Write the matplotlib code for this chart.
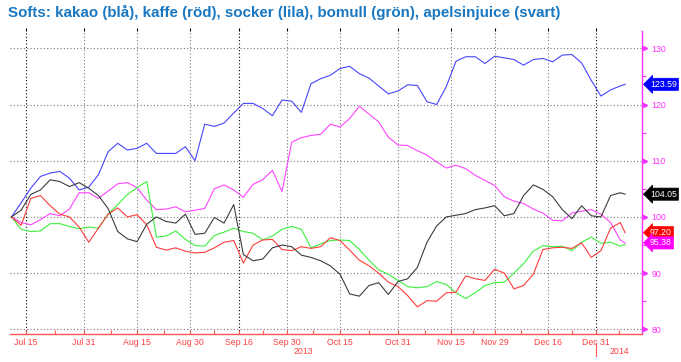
import numpy as np
import pandas as pd
import matplotlib
matplotlib.use('Agg')
import matplotlib.pyplot as plt
from matplotlib.transforms import blended_transform_factory
from matplotlib.ticker import MultipleLocator, FixedLocator

# ---------------- data ----------------
holidays = ['2013-09-02', '2013-11-28', '2013-12-25', '2014-01-01']
bdays = [d for d in pd.bdate_range('2013-07-10', '2014-01-20')
         if d.strftime('%Y-%m-%d') not in holidays]
sample_idx = list(range(0, 127, 2)) + [127]
dates = [bdays[i].strftime('%Y-%m-%d') for i in sample_idx]

kakao = [100.0, 102.5, 105.1, 107.2, 107.8, 108.1, 106.9, 104.8, 105.3, 107.5,
         111.6, 113.1, 111.9, 112.2, 113.1, 111.3, 111.3, 111.3, 112.5, 110.0,
         116.5, 116.1, 116.7, 118.5, 120.2, 120.2, 119.3, 118.0, 120.8, 120.6,
         118.6, 123.7, 124.6, 125.2, 126.4, 126.8, 125.5, 124.7, 123.3, 121.9,
         122.4, 123.5, 123.4, 120.5, 120.0, 123.2, 127.7, 128.5, 128.5, 127.3,
         128.6, 128.3, 128.0, 127.0, 128.0, 128.2, 127.6, 128.8, 128.9, 127.4,
         124.3, 121.5, 122.6, 123.3, 123.59]
apelsinjuice = [100.0, 101.2, 104.0, 104.8, 106.6, 106.3, 105.4, 106.1, 105.1, 103.8,
                101.5, 97.4, 96.1, 95.6, 98.7, 100.0, 99.2, 98.9, 100.5, 96.9,
                97.1, 99.9, 98.9, 102.2, 93.3, 92.2, 92.5, 94.5, 95.0, 94.7,
                93.2, 92.8, 92.2, 91.3, 89.8, 86.3, 85.9, 87.8, 88.3, 86.2,
                88.5, 89.0, 91.0, 95.5, 98.4, 100.0, 100.3, 100.6, 101.3, 101.6,
                102.0, 100.2, 100.6, 103.8, 105.7, 104.9, 103.6, 101.3, 99.7, 102.0,
                100.2, 100.0, 103.8, 104.3, 104.05]
kaffe = [100.0, 98.5, 103.3, 103.8, 102.0, 100.5, 100.0, 98.2, 95.5, 98.0,
         100.5, 101.6, 100.0, 100.4, 98.6, 94.6, 94.1, 94.5, 93.9, 93.6,
         93.7, 94.5, 95.5, 95.8, 91.8, 95.0, 95.9, 96.0, 94.2, 94.0,
         94.7, 94.4, 94.7, 96.3, 95.8, 94.1, 92.3, 91.3, 90.0, 88.4,
         87.6, 86.0, 84.0, 85.1, 85.0, 86.5, 86.6, 89.5, 89.0, 88.7,
         90.7, 90.0, 87.2, 87.8, 89.8, 94.2, 94.5, 94.6, 94.4, 95.4,
         92.8, 94.0, 98.0, 99.0, 97.20]
socker = [100.0, 99.0, 98.6, 99.5, 100.6, 100.2, 101.4, 104.3, 104.3, 103.3,
          104.6, 105.9, 106.1, 105.2, 103.0, 101.3, 101.4, 101.8, 100.9, 101.2,
          101.5, 105.0, 105.7, 104.8, 103.5, 105.8, 106.6, 108.3, 104.5, 113.3,
          114.1, 114.5, 114.7, 116.5, 116.0, 117.5, 119.7, 118.3, 116.9, 114.2,
          112.8, 112.7, 111.8, 111.0, 109.8, 108.7, 109.2, 108.6, 107.4, 106.5,
          105.6, 103.6, 102.8, 102.4, 101.4, 100.7, 99.4, 99.3, 100.7, 101.0,
          101.3, 100.5, 99.0, 95.9, 95.38]
bomull = [100.0, 97.8, 97.4, 97.5, 98.8, 98.8, 98.3, 97.9, 98.2, 98.0,
          100.5, 102.2, 104.0, 105.2, 106.3, 96.4, 96.6, 97.5, 96.0, 94.9,
          94.8, 96.7, 97.3, 98.0, 97.4, 97.1, 95.9, 96.6, 97.8, 98.3,
          97.8, 94.5, 95.2, 95.8, 95.9, 95.8, 94.2, 92.3, 90.6, 89.8,
          88.7, 87.6, 87.4, 87.6, 88.5, 88.0, 86.5, 85.5, 86.5, 87.8,
          88.3, 88.4, 90.0, 91.7, 93.9, 94.9, 94.7, 94.8, 94.0, 95.5,
          96.4, 95.3, 95.5, 94.8, 95.1]

tick_dates = ['2013-07-15', '2013-07-31', '2013-08-15', '2013-08-30', '2013-09-16',
              '2013-09-30', '2013-10-15', '2013-10-31', '2013-11-15', '2013-11-29',
              '2013-12-16', '2013-12-31']
tick_labels = ['Jul 15', 'Jul 31', 'Aug 15', 'Aug 30', 'Sep 16', 'Sep 30',
               'Oct 15', 'Oct 31', 'Nov 15', 'Nov 29', 'Dec 16', 'Dec 31']
dark_dates = ['2013-07-15', '2013-09-16', '2013-12-31']
y_ticks = [80, 90, 100, 110, 120, 130]
title = 'Softs: kakao (blå), kaffe (röd), socker (lila), bomull (grön), apelsinjuice (svart)'

# ---------------- plotting ----------------
pos = {d.strftime('%Y-%m-%d'): i for i, d in enumerate(bdays)}
x = np.array([pos[d] for d in dates])
xt = np.array([pos[d] for d in tick_dates])

W, H = 681, 362
fig = plt.figure(figsize=(W / 100, H / 100), dpi=100)
fig.patch.set_facecolor('white')
ax = fig.add_axes([10 / W, 28 / H, 632 / W, 303 / H])
ax.set_xlim(-0.3, 130.5)
ax.set_ylim(79.17, 133.08)

FONT = 'Liberation Sans'
MAG = '#ff33ff'
RED_AX = '#ff5555'

# grid
for v in y_ticks:
    ax.axhline(v, color='#7a7a7a', lw=0.8, ls=(0, (1, 2)), zorder=1)
for d, xv in zip(tick_dates, xt):
    col = '#000000' if d in dark_dates else '#7a7a7a'
    ax.axvline(xv, color=col, lw=0.8, ls=(0, (1, 2)), zorder=1)

series = [
    (kakao, '#4646ff'),
    (socker, '#ff44ff'),
    (bomull, '#3cf03c'),
    (kaffe, '#ff3c3c'),
    (apelsinjuice, '#3c3c3c'),
]
for vals, c in series:
    ax.plot(x, vals, color=c, lw=0.8, zorder=3)

# spines
for s in ['left', 'top']:
    ax.spines[s].set_visible(False)
ax.spines['right'].set_color(MAG)
ax.spines['right'].set_linestyle((0, (1, 1)))
ax.spines['right'].set_linewidth(1.0)
ax.spines['bottom'].set_color(RED_AX)
ax.spines['bottom'].set_linewidth(1.0)

# x ticks
ax.set_xticks(xt)
ax.set_xticklabels(tick_labels)
mids = list((xt[:-1] + xt[1:]) / 2) + [(xt[-1] + 130.5) / 2]
ax.xaxis.set_minor_locator(FixedLocator(mids))
ax.tick_params(axis='x', which='both', colors=RED_AX, length=3, width=0.8,
               direction='in', pad=3, labelsize=6.3)
for lbl in ax.get_xticklabels():
    lbl.set_fontfamily(FONT)
    lbl.set_color('#ff4040')

# top ticks
secx = ax.secondary_xaxis('top')
secx.set_xticks(xt)
secx.tick_params(axis='x', length=2.5, width=0.8, colors='black', labeltop=False, direction='out')
secx.spines['top'].set_visible(False)

# y ticks on right
ax.yaxis.tick_right()
ax.set_yticks(y_ticks)
ax.yaxis.set_minor_locator(MultipleLocator(5))
ax.tick_params(axis='y', which='major', length=0, pad=7, labelsize=6.3, labelcolor=MAG)
ax.tick_params(axis='y', which='minor', length=3, width=0.8, color=MAG, direction='out')
for lbl in ax.get_yticklabels():
    lbl.set_fontfamily(FONT)
ax.tick_params(axis='y', left=False, labelleft=False)

ytr = blended_transform_factory(ax.transAxes, ax.transData)
ax.plot([1.0 + 2.5 / 632] * len(y_ticks), y_ticks, ls='none', marker='>', ms=3,
        color=MAG, transform=ytr, clip_on=False, zorder=5)

# last-value boxes
last_boxes = [
    (kakao[-1], '#0000ff'),
    (apelsinjuice[-1], '#000000'),
    (kaffe[-1], '#ff0000'),
    (socker[-1], '#ff00ff'),
]
for v, c in last_boxes:
    ax.text(1.0 + 8 / 632, v, f'{v:.2f}', transform=ytr, ha='left', va='center',
            fontsize=6.3, family=FONT, color='white', clip_on=False, zorder=6,
            bbox=dict(boxstyle='larrow,pad=0.18', fc=c, ec=c, lw=0.5))

# year labels
xtr = blended_transform_factory(ax.transData, ax.transAxes)
x_dec31 = xt[-1]
ax.text((-0.3 + x_dec31) / 2, -0.058, '2013', transform=xtr, ha='center', va='center',
        fontsize=6.3, family=FONT, color='#ff4040')
ax.text((x_dec31 + 130.5) / 2, -0.058, '2014', transform=xtr, ha='center', va='center',
        fontsize=6.3, family=FONT, color='#ff4040')
ax.plot([x_dec31, x_dec31], [-0.03, -0.073], transform=xtr, color=RED_AX, lw=0.8,
        clip_on=False)

fig.text(8 / W, 1 - 12 / H, title, fontsize=10.9, fontweight='bold', color='#1a78c2',
         family=FONT, ha='left', va='center')

fig.savefig('out.png', dpi=100, facecolor='white')
